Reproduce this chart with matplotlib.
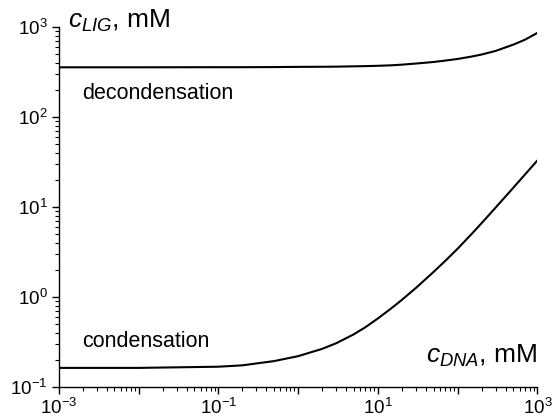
import matplotlib
matplotlib.use("Agg")
import matplotlib.pyplot as plt
from matplotlib.ticker import LogLocator, FuncFormatter, NullFormatter
import numpy as np

plt.rcParams['font.family'] = ['Liberation Sans', 'DejaVu Sans']
plt.rcParams['mathtext.fontset'] = 'custom'
plt.rcParams['mathtext.rm'] = 'Liberation Sans'
plt.rcParams['mathtext.it'] = 'Liberation Sans:italic'
plt.rcParams['mathtext.bf'] = 'Liberation Sans:bold'

# DNA concentration (mM)
c_dna = [1e-3, 1e-2, 1e-1, 0.2, 0.5, 1, 2, 3, 5, 7, 10, 15, 20, 30, 50, 70,
         100, 150, 200, 300, 500, 700, 1000]
# decondensation boundary (ligand concentration, mM)
c_lig_decond = [357, 357, 358, 358, 359, 361, 362, 363, 366, 368, 371, 376, 382,
                393, 409, 424, 442, 470, 495, 543, 638, 724, 861]
# condensation boundary (ligand concentration, mM)
c_lig_cond = [0.163, 0.163, 0.168, 0.174, 0.194, 0.220, 0.265, 0.306, 0.385, 0.462,
              0.577, 0.757, 0.929, 1.26, 1.90, 2.52, 3.44, 5.02, 6.62, 9.87, 16.4,
              23.0, 32.9]

fig = plt.figure(figsize=(5.54, 4.2), dpi=100)
ax = fig.add_axes([0.106, 0.0786, 0.864, 0.857])

ax.plot(c_dna, c_lig_decond, color='black', lw=1.5)
ax.plot(c_dna, c_lig_cond, color='black', lw=1.5)

ax.set_xscale('log')
ax.set_yscale('log')
ax.set_xlim(1e-3, 1e3)
ax.set_ylim(1e-1, 1e3)

for s in ['top', 'right']:
    ax.spines[s].set_visible(False)
for s in ['left', 'bottom']:
    ax.spines[s].set_linewidth(1.0)

def xfmt(v, pos):
    e = int(round(np.log10(v)))
    if (e + 3) % 2 != 0:
        return ''
    return r'$10^{%d}$' % e

def yfmt(v, pos):
    e = int(round(np.log10(v)))
    return r'$10^{%d}$' % e

ax.xaxis.set_major_locator(LogLocator(base=10, numticks=20))
ax.xaxis.set_minor_locator(LogLocator(base=10, subs=np.arange(2, 10), numticks=20))
ax.yaxis.set_major_locator(LogLocator(base=10, numticks=20))
ax.yaxis.set_minor_locator(LogLocator(base=10, subs=np.arange(2, 10), numticks=20))
ax.xaxis.set_major_formatter(FuncFormatter(xfmt))
ax.yaxis.set_major_formatter(FuncFormatter(yfmt))
ax.xaxis.set_minor_formatter(NullFormatter())
ax.yaxis.set_minor_formatter(NullFormatter())

ax.tick_params(which='major', direction='out', length=5, width=1.0, labelsize=13.5, pad=3)
ax.tick_params(which='minor', direction='out', length=3, width=0.8)

ax.text(0.019, 0.997, r'$c_{LIG}$, mM', transform=ax.transAxes, fontsize=19,
        ha='left', va='baseline')
ax.text(1.0, 0.067, r'$c_{DNA}$, mM', transform=ax.transAxes, fontsize=19,
        ha='right', va='baseline')
ax.text(0.049, 0.80, 'decondensation', transform=ax.transAxes, fontsize=15.5,
        ha='left', va='baseline')
ax.text(0.049, 0.111, 'condensation', transform=ax.transAxes, fontsize=15.5,
        ha='left', va='baseline')

fig.savefig('out.png', dpi=100)
